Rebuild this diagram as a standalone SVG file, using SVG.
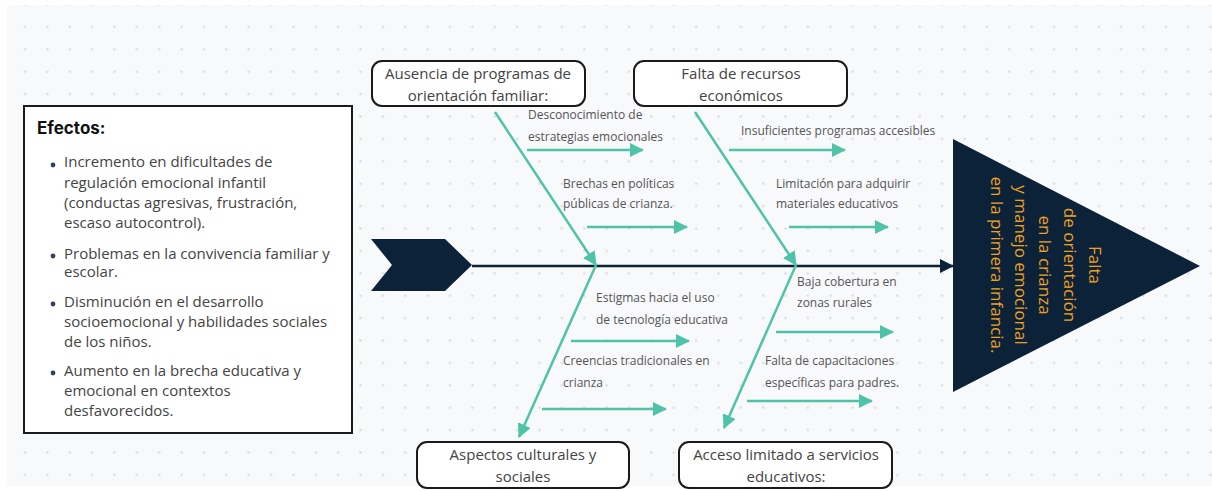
<svg xmlns="http://www.w3.org/2000/svg" width="1212" height="491" viewBox="0 0 1212 491">
<style>
.box{fill:#fff;stroke:#1a1a1a;stroke-width:2}
.cat{font-family:"Open Sans","Noto Sans",sans-serif;font-size:15px;fill:#444;text-anchor:middle}
.sub{font-family:"Open Sans","Noto Sans",sans-serif;font-size:12px;fill:#555}
.eff{font-family:"Open Sans","Noto Sans",sans-serif;font-size:15px;fill:#444}
.bone{stroke:#4fc3a8;stroke-width:2.5;fill:none}
.head{font-family:"Open Sans","Noto Sans",sans-serif;font-size:17px;fill:#f0a020;text-anchor:middle}
</style>
<defs>
<pattern id="dots" patternUnits="userSpaceOnUse" x="13.8" y="-6.7" width="22.37" height="22.4">
<circle cx="11.18" cy="11.2" r="1.2" fill="#d6d9df"/>
</pattern>
<marker id="ta" markerUnits="userSpaceOnUse" markerWidth="14" markerHeight="14" refX="13" refY="7" orient="auto">
<path d="M0,0 L14,7 L0,14 Z" fill="#4fc3a8"/>
</marker>
<marker id="na" markerUnits="userSpaceOnUse" markerWidth="14" markerHeight="14" refX="13" refY="7" orient="auto">
<path d="M0,0 L14,7 L0,14 Z" fill="#0b2239"/>
</marker>
</defs>
<rect x="0" y="0" width="1212" height="491" fill="#fff"/>
<rect x="7" y="5" width="1205" height="481" fill="#f8f9fb"/>
<rect x="7" y="5" width="1205" height="481" fill="url(#dots)"/>

<g id="connectors">
<line x1="472" y1="266" x2="953" y2="266" stroke="#0b2239" stroke-width="2.5" marker-end="url(#na)"/>
<line class="bone" x1="495" y1="112" x2="596" y2="265" marker-end="url(#ta)"/>
<line class="bone" x1="695" y1="112" x2="796" y2="265" marker-end="url(#ta)"/>
<line class="bone" x1="596" y1="265" x2="519" y2="437" marker-end="url(#ta)"/>
<line class="bone" x1="796" y1="265" x2="724" y2="428" marker-end="url(#ta)"/>
<line class="bone" x1="527" y1="150" x2="643" y2="150" marker-end="url(#ta)"/>
<line class="bone" x1="587" y1="227" x2="687" y2="227" marker-end="url(#ta)"/>
<line class="bone" x1="729" y1="150" x2="845" y2="150" marker-end="url(#ta)"/>
<line class="bone" x1="789" y1="227" x2="888" y2="227" marker-end="url(#ta)"/>
<line class="bone" x1="571" y1="341" x2="689" y2="341" marker-end="url(#ta)"/>
<line class="bone" x1="542" y1="409" x2="666" y2="409" marker-end="url(#ta)"/>
<line class="bone" x1="776" y1="332" x2="893" y2="332" marker-end="url(#ta)"/>
<line class="bone" x1="747" y1="401" x2="872" y2="401" marker-end="url(#ta)"/>
</g>

<g id="sub-labels">
<text class="sub" x="528" y="119">Desconocimiento de</text>
<text class="sub" x="528" y="141">estrategias emocionales</text>
<text class="sub" x="563" y="188">Brechas en políticas</text>
<text class="sub" x="563" y="208">públicas de crianza.</text>
<text class="sub" x="741" y="135">Insuficientes programas accesibles</text>
<text class="sub" x="776" y="188">Limitación para adquirir</text>
<text class="sub" x="776" y="208">materiales educativos</text>
<text class="sub" x="596" y="302">Estigmas hacia el uso</text>
<text class="sub" x="596" y="324">de tecnología educativa</text>
<text class="sub" x="563" y="365">Creencias tradicionales en</text>
<text class="sub" x="563" y="387">crianza</text>
<text class="sub" x="797" y="286">Baja cobertura en</text>
<text class="sub" x="797" y="307">zonas rurales</text>
<text class="sub" x="765" y="365">Falta de capacitaciones</text>
<text class="sub" x="765" y="387">específicas para padres.</text>
</g>

<g id="tail">
<polygon points="371,239 445,239 472,265 445,291 371,291 392,265" fill="#0b2239"/>
</g>

<g id="problem">
<polygon points="953,139 1200,266 953,392" fill="#0b2239"/>
<g transform="translate(1043,265) rotate(90)">
<text class="head" x="0" y="-45.5">Falta</text>
<text class="head" x="0" y="-21">de orientación</text>
<text class="head" x="0" y="4.5">en la crianza</text>
<text class="head" x="0" y="28.5">y manejo emocional</text>
<text class="head" x="0" y="52.5">en la primera infancia.</text>
</g>
</g>

<g id="cat-ausencia">
<rect class="box" x="372" y="61" width="213" height="45" rx="10"/>
<text class="cat" x="478" y="79">Ausencia de programas de</text>
<text class="cat" x="478" y="101">orientación familiar:</text>
</g>
<g id="cat-recursos">
<rect class="box" x="634" y="61" width="213" height="45" rx="10"/>
<text class="cat" x="741" y="79">Falta de recursos</text>
<text class="cat" x="741" y="101">económicos</text>
</g>
<g id="cat-culturales">
<rect class="box" x="417" y="442" width="212" height="46" rx="10"/>
<text class="cat" x="523" y="460">Aspectos culturales y</text>
<text class="cat" x="523" y="482">sociales</text>
</g>
<g id="cat-acceso">
<rect class="box" x="679" y="442" width="213" height="46" rx="10"/>
<text class="cat" x="786" y="460">Acceso limitado a servicios</text>
<text class="cat" x="786" y="482">educativos:</text>
</g>

<g id="efectos">
<rect x="24" y="106" width="328" height="327" fill="#fff" stroke="#1a1a1a" stroke-width="2"/>
<text x="37" y="134" font-family="Inter,'Open Sans',sans-serif" font-size="17" font-weight="bold" fill="#111">Efectos:</text>
<g fill="#33415c">
<circle cx="53" cy="165" r="2.4"/>
<circle cx="53" cy="256" r="2.4"/>
<circle cx="53" cy="304" r="2.4"/>
<circle cx="53" cy="373" r="2.4"/>
</g>
<text class="eff" x="64" y="167">Incremento en dificultades de</text>
<text class="eff" x="64" y="188">regulación emocional infantil</text>
<text class="eff" x="64" y="208">(conductas agresivas, frustración,</text>
<text class="eff" x="64" y="228">escaso autocontrol).</text>
<text class="eff" x="64" y="259">Problemas en la convivencia familiar y</text>
<text class="eff" x="64" y="277">escolar.</text>
<text class="eff" x="64" y="307">Disminución en el desarrollo</text>
<text class="eff" x="64" y="327">socioemocional y habilidades sociales</text>
<text class="eff" x="64" y="347">de los niños.</text>
<text class="eff" x="64" y="376">Aumento en la brecha educativa y</text>
<text class="eff" x="64" y="396">emocional en contextos</text>
<text class="eff" x="64" y="416">desfavorecidos.</text>
</g>
</svg>
